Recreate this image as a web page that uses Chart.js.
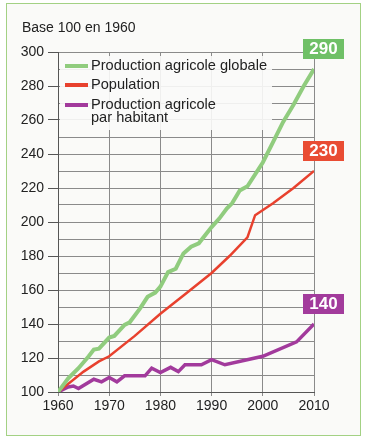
<!DOCTYPE html>
<html>
<head>
<meta charset="utf-8">
<script src="https://cdn.jsdelivr.net/npm/chart.js@4/dist/chart.umd.min.js"></script>
<style>
  html, body { margin: 0; padding: 0; background: #fff; }
  #wrap { position: absolute; left: 6px; top: 3px; width: 353px; height: 431px; border: 1px solid #a3d184; background: #fafaf8; }
  #c { position: absolute; left: -7px; top: -4px; }
</style>
</head>
<body>
<div id="wrap"><canvas id="c" width="365" height="440"></canvas></div>
<script>
// Base 100 en 1960
var globaleYears = [1960, 1962, 1964, 1966, 1967, 1968, 1970, 1971, 1973, 1974, 1976, 1977.5, 1979, 1980, 1981.5, 1983, 1984.5, 1986, 1987.5, 1990, 1991.5, 1993, 1994, 1995.5, 1997, 2000, 2002, 2004, 2006, 2008, 2010];
var globale = [100, 108, 114, 121, 125, 125.5, 132, 133, 139.5, 141, 149, 156, 158.5, 162, 170.5, 172.5, 181.5, 185.5, 187.5, 197, 202, 208, 211, 218.5, 221, 235, 247, 259, 269, 280, 290];

var populationYears = [1960, 1965, 1968, 1970, 1975, 1980, 1985, 1990, 1993.5, 1997, 1998.5, 2002, 2006, 2010];
var population = [100, 112, 118, 121, 133, 146, 158, 170, 180, 191, 204, 211, 220, 230];

var habitantYears = [1960, 1962, 1963, 1964, 1967, 1968.5, 1970, 1971.5, 1973, 1977, 1978.3, 1980, 1982, 1983.5, 1984.8, 1988, 1990, 1992.6, 2000, 2006.6, 2010];
var habitant = [100, 103, 103.5, 102, 107.5, 106, 108.5, 106, 109.5, 109.5, 114, 111.5, 114.5, 112, 116, 116, 119, 116, 121, 129.5, 140];

var legendLabels = [["Production agricole globale"], ["Population"], ["Production agricole", "par habitant"]];
var endLabels = ["290", "230", "140"];
var colors = ["#90cc7e", "#e8412e", "#a23a9c"];
var boxColors = ["#6fc067", "#e94c33", "#a23b9c"];

function pts(xs, ys) {
    return xs.map(function (x, i) { return { x: x, y: ys[i] }; });
}

var font = "'Liberation Sans', Arial, sans-serif";

var decor = {
    id: 'decor',
    afterDraw: function (chart) {
        var ctx = chart.ctx;
        var a = chart.chartArea;
        var ys = chart.scales.y;
        ctx.save();
        // title
        ctx.fillStyle = "#222";
        ctx.font = "14px " + font;
        ctx.textBaseline = "alphabetic";
        ctx.textAlign = "left";
        ctx.fillText("Base 100 en 1960", 22, 32);

        // legend box
        ctx.fillStyle = "rgba(250,250,248,0.9)";
        ctx.fillRect(a.left + 2, a.top + 4, 212, 74);
        var ly = [66, 85, 105];
        for (var i = 0; i < 3; i++) {
            ctx.strokeStyle = colors[i];
            ctx.lineWidth = 4;
            ctx.beginPath();
            ctx.moveTo(65, ly[i]);
            ctx.lineTo(88, ly[i]);
            ctx.stroke();
            ctx.fillStyle = "#222";
            ctx.font = "14.6px " + font;
            ctx.textBaseline = "middle";
            for (var j = 0; j < legendLabels[i].length; j++) {
                ctx.fillText(legendLabels[i][j], 91, ly[i] + j * 13);
            }
        }

        // end value boxes
        chart.data.datasets.forEach(function (ds, k) {
            var last = ds.data[ds.data.length - 1];
            var py = ys.getPixelForValue(last.y);
            var bottom = py - 10;
            ctx.fillStyle = boxColors[k];
            ctx.fillRect(303, bottom - 20, 41, 20);
            ctx.fillStyle = "#fff";
            ctx.font = "bold 17px " + font;
            ctx.textAlign = "center";
            ctx.textBaseline = "middle";
            ctx.fillText(endLabels[k], 323.5, bottom - 9.5);
            ctx.textAlign = "left";
        });
        ctx.restore();
    }
};

var chart = new Chart(document.getElementById("c"), {
    type: 'line',
    data: {
        datasets: [
            { label: "Production agricole globale", data: pts(globaleYears, globale), borderColor: colors[0], borderWidth: 4, pointRadius: 0, fill: false },
            { label: "Population", data: pts(populationYears, population), borderColor: colors[1], borderWidth: 2.5, pointRadius: 0, fill: false },
            { label: "Production agricole par habitant", data: pts(habitantYears, habitant), borderColor: colors[2], borderWidth: 3.5, pointRadius: 0, fill: false }
        ]
    },
    options: {
        responsive: false,
        animation: false,
        layout: { padding: { left: 0, right: 51, top: 52, bottom: 0 } },
        plugins: { legend: { display: false }, tooltip: { enabled: false } },
        scales: {
            x: {
                type: 'linear',
                min: 1960,
                max: 2010,
                afterFit: function (s) { s.height = 48; },
                ticks: {
                    stepSize: 10,
                    color: "#222",
                    font: { size: 14, family: font },
                    padding: 2,
                    callback: function (v) { return String(v); }
                },
                grid: { color: "#8a8a8a", lineWidth: 1, tickLength: 4 },
                border: { color: "#555", width: 1 }
            },
            y: {
                min: 100,
                max: 300,
                afterFit: function (s) { s.width = 58; },
                ticks: {
                    stepSize: 10,
                    color: "#222",
                    font: { size: 14, family: font },
                    padding: 4,
                    autoSkip: false,
                    callback: function (v) { return v % 20 === 0 ? String(v) : ''; }
                },
                grid: {
                    color: "#8a8a8a",
                    lineWidth: 1,
                    tickLength: 10,
                    tickColor: function (c) { return c.tick && c.tick.value % 20 === 0 ? "#555" : "rgba(0,0,0,0)"; }
                },
                border: { color: "#555", width: 1 }
            }
        }
    },
    plugins: [decor]
});
</script>
</body>
</html>
